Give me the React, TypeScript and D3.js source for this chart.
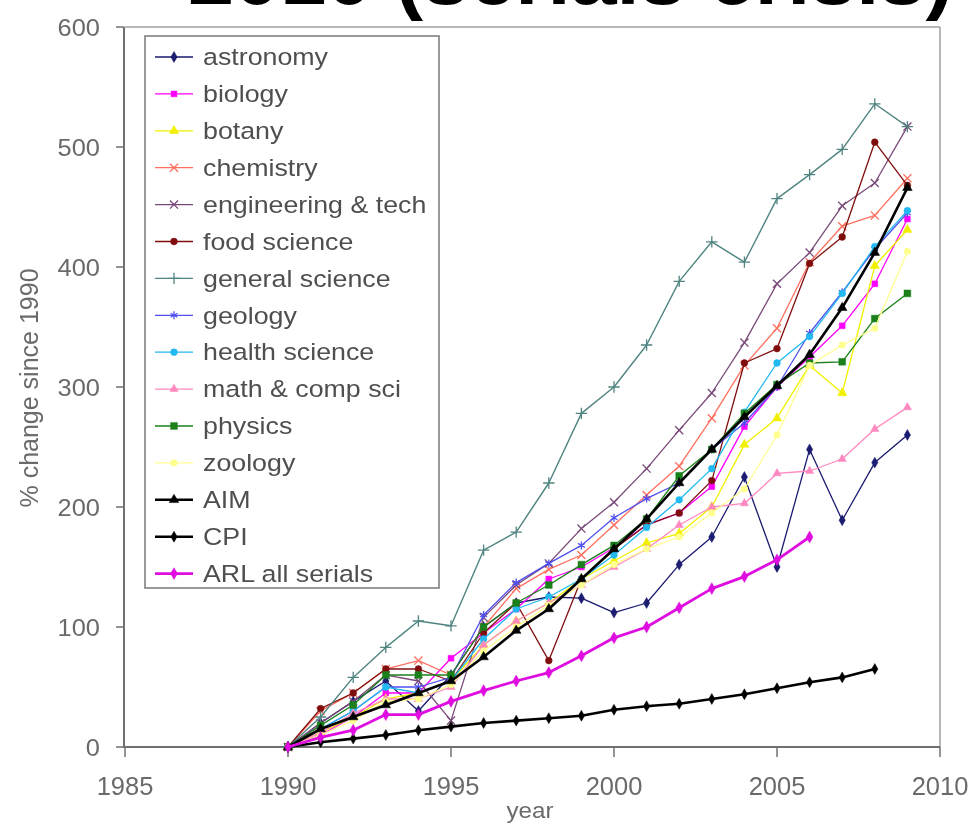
import React from "react"
import * as d3 from "d3"

const years = [1990, 1991, 1992, 1993, 1994, 1995, 1996, 1997, 1998, 1999, 2000, 2001, 2002, 2003, 2004, 2005, 2006, 2007, 2008, 2009]

const astronomy = [0, 20, 38, 55, 30, 60, 100, 120, 125, 124, 112, 120, 152, 175, 225, 150, 248, 189, 237, 260]
const biology = [0, 10, 25, 45, 45, 74, 95, 115, 140, 150, 166, 185, 195, 217, 267, 300, 325, 351, 386, 440]
const botany = [0, 12, 25, 40, 45, 55, 85, 105, 120, 140, 155, 170, 178, 200, 252, 274, 318, 295, 401, 431]
const chemistry = [0, 30, 45, 65, 72, 60, 100, 132, 148, 160, 185, 210, 234, 274, 318, 349, 404, 434, 443, 474]
const engineering = [0, 20, 38, 60, 55, 22, 108, 135, 153, 182, 204, 232, 264, 295, 337, 386, 412, 451, 470, 517]
const foodScience = [0, 32, 45, 65, 65, 55, 95, 120, 72, 140, 165, 185, 195, 222, 320, 332, 403, 425, 504, 468]
const generalScience = [0, 25, 58, 83, 105, 101, 164, 179, 220, 278, 300, 335, 388, 421, 404, 457, 477, 498, 536, 517]
const geology = [0, 15, 30, 50, 50, 58, 110, 137, 153, 168, 191, 207, 220, 248, 270, 300, 345, 379, 415, 445]
const healthScience = [0, 15, 30, 50, 45, 55, 90, 115, 125, 140, 160, 183, 206, 232, 279, 320, 342, 378, 417, 447]
const mathCompSci = [0, 12, 28, 40, 40, 50, 85, 105, 120, 135, 150, 165, 185, 200, 203, 228, 230, 240, 265, 283]
const physics = [0, 18, 35, 60, 60, 60, 100, 120, 135, 152, 168, 190, 226, 248, 278, 302, 320, 321, 357, 378]
const zoology = [0, 10, 22, 38, 40, 52, 80, 100, 118, 135, 152, 165, 175, 195, 215, 260, 318, 335, 349, 413]
const aim = [0, 15, 25, 35, 45, 55, 75, 97, 115, 140, 165, 190, 220, 248, 275, 301, 327, 366, 412, 466]
const cpi = [0, 4, 7, 10, 14, 17, 20, 22, 24, 26, 31, 34, 36, 40, 44, 49, 54, 58, 65]
const arl = [0, 8, 14, 27, 27, 38, 47, 55, 62, 76, 91, 100, 116, 132, 142, 156, 175]

const xTicks = [1985, 1990, 1995, 2000, 2005, 2010]
const yTicks = [0, 100, 200, 300, 400, 500, 600]

type Series = {
  name: string
  values: number[]
  color: string
  symbol: d3.SymbolType
  filled: boolean
  size: number
  width: number
}

const series: Series[] = [
  { name: "astronomy", values: astronomy, color: "#1a1a70", symbol: d3.symbolDiamond, filled: true, size: 34, width: 1.3 },
  { name: "biology", values: biology, color: "#ff00ff", symbol: d3.symbolSquare, filled: true, size: 34, width: 1.3 },
  { name: "botany", values: botany, color: "#f0f000", symbol: d3.symbolTriangle, filled: true, size: 38, width: 1.3 },
  { name: "chemistry", values: chemistry, color: "#ff7060", symbol: d3.symbolTimes, filled: false, size: 44, width: 1.3 },
  { name: "engineering & tech", values: engineering, color: "#7a4a7a", symbol: d3.symbolTimes, filled: false, size: 44, width: 1.3 },
  { name: "food science", values: foodScience, color: "#801010", symbol: d3.symbolCircle, filled: true, size: 36, width: 1.3 },
  { name: "general science", values: generalScience, color: "#4f8480", symbol: d3.symbolPlus, filled: false, size: 44, width: 1.4 },
  { name: "geology", values: geology, color: "#5050f0", symbol: d3.symbolAsterisk, filled: false, size: 44, width: 1.3 },
  { name: "health science", values: healthScience, color: "#20b8f0", symbol: d3.symbolCircle, filled: true, size: 36, width: 1.3 },
  { name: "math & comp sci", values: mathCompSci, color: "#ff88c0", symbol: d3.symbolTriangle, filled: true, size: 30, width: 1.3 },
  { name: "physics", values: physics, color: "#1a801a", symbol: d3.symbolSquare, filled: true, size: 46, width: 1.3 },
  { name: "zoology", values: zoology, color: "#ffff90", symbol: d3.symbolCircle, filled: true, size: 34, width: 1.3 },
  { name: "AIM", values: aim, color: "#000000", symbol: d3.symbolTriangle, filled: true, size: 40, width: 2.6 },
  { name: "CPI", values: cpi, color: "#000000", symbol: d3.symbolDiamond, filled: true, size: 34, width: 2.6 },
  { name: "ARL all serials", values: arl, color: "#e010e0", symbol: d3.symbolDiamond, filled: true, size: 40, width: 2.8 },
]

const W = 973
const H = 824
const font = "'Liberation Sans', Arial, sans-serif"
const textGray = "#6a6a6a"

export default function App() {
  const x = d3.scaleLinear().domain([1985, 2010]).range([125, 940])
  const y = d3.scaleLinear().domain([0, 600]).range([747, 27])

  const line = d3
    .line<number>()
    .x((_, i) => x(years[i]))
    .y((d) => y(d))

  const legendX = 145
  const legendY = 36
  const legendW = 294
  const legendH = 552
  const rowH = 36.9

  const marker = (s: Series, cx: number, cy: number, key: string) => (
    <path
      key={key}
      transform={`translate(${cx},${cy})`}
      d={d3.symbol().type(s.symbol).size(s.size)() ?? ""}
      fill={s.filled ? s.color : "none"}
      stroke={s.color}
      strokeWidth={s.filled ? 0.5 : 1.3}
    />
  )

  return (
    <svg
      width={W}
      height={H}
      style={{ position: "absolute", left: 0, top: 0, background: "#fff" }}
    >
      <defs>
        <filter id="soft" x="-5%" y="-5%" width="110%" height="110%">
          <feGaussianBlur stdDeviation="0.45" />
        </filter>
      </defs>

      <g filter="url(#soft)">
        {/* title, cut off at the top edge */}
        <text
          x={188}
          y={3.5}
          textLength={765}
          lengthAdjust="spacingAndGlyphs"
          fontFamily={font}
          fontWeight="bold"
          fontSize={80}
          fill="#000"
        >
          2010 (serials crisis)
        </text>

        {/* plot frame */}
        <line x1={125} x2={940} y1={27} y2={27} stroke="#a0a0a0" strokeWidth={1.5} />
        <line x1={940} x2={940} y1={27} y2={747} stroke="#a0a0a0" strokeWidth={1.5} />
        <line x1={124} x2={124} y1={27} y2={748} stroke="#707070" strokeWidth={2} />
        <line x1={124} x2={940} y1={747} y2={747} stroke="#707070" strokeWidth={2} />

        {yTicks.map((t) => (
          <g key={t} transform={`translate(0,${y(t)})`}>
            <line x1={116} x2={124} stroke="#707070" strokeWidth={1.5} />
            <text
              transform="translate(100,0) scale(1.06,1)"
              dy="0.36em"
              textAnchor="end"
              fontFamily={font}
              fontSize={24}
              fill={textGray}
            >
              {t}
            </text>
          </g>
        ))}

        {xTicks.map((t) => (
          <g key={t} transform={`translate(${x(t)},0)`}>
            <line y1={747} y2={757} stroke="#707070" strokeWidth={1.5} />
            <text
              transform="translate(0,795)"
              textAnchor="middle"
              fontFamily={font}
              fontSize={25.5}
              fill={textGray}
            >
              {t}
            </text>
          </g>
        ))}

        <text
          transform="translate(530,818) scale(1.1,1)"
          textAnchor="middle"
          fontFamily={font}
          fontSize={22}
          fill={textGray}
        >
          year
        </text>
        <text
          transform="translate(38,388) rotate(-90)"
          textAnchor="middle"
          fontFamily={font}
          fontSize={25}
          fill={textGray}
        >
          % change since 1990
        </text>

        {/* series */}
        {series.map((s) => (
          <g key={s.name}>
            <path
              d={line(s.values) ?? ""}
              fill="none"
              stroke={s.color}
              strokeWidth={s.width}
              strokeLinejoin="round"
            />
            {s.values.map((v, i) => marker(s, x(years[i]), y(v), `${s.name}-${i}`))}
          </g>
        ))}

        {/* legend */}
        <rect
          x={legendX}
          y={legendY}
          width={legendW}
          height={legendH}
          fill="#fff"
          stroke="#808080"
          strokeWidth={1.6}
        />
        {series.map((s, i) => {
          const cy = legendY + 21 + i * rowH
          return (
            <g key={s.name}>
              <line
                x1={155}
                x2={193}
                y1={cy}
                y2={cy}
                stroke={s.color}
                strokeWidth={s.width}
              />
              {marker(s, 174, cy, `leg-${i}`)}
              <text
                transform={`translate(203,${cy}) scale(1.14,1)`}
                dy="0.35em"
                fontFamily={font}
                fontSize={23.5}
                fill="#4f4f4f"
              >
                {s.name}
              </text>
            </g>
          )
        })}
      </g>
    </svg>
  )
}
